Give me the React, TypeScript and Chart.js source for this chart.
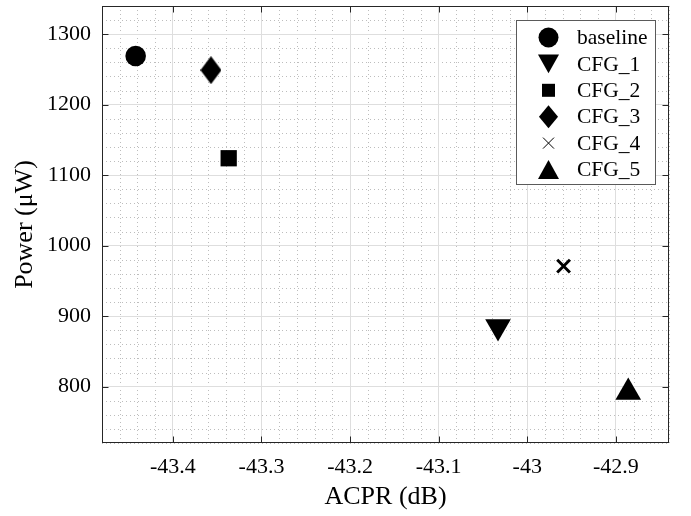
import React, { useEffect, useRef } from "react";
import { Chart, registerables } from "chart.js";

Chart.register(...registerables);

const seriesNames = ["baseline", "CFG_1", "CFG_2", "CFG_3", "CFG_4", "CFG_5"];
const acprValues = [-43.442, -43.033, -43.337, -43.357, -42.959, -42.886];
const powerValues = [1269, 885, 1124, 1249, 971, 792];
const markerStyles = ["circle", "triangleDown", "rect", "diamond", "cross", "triangle"];

const xMin = -43.48;
const xMax = -42.84;
const yMin = 720;
const yMax = 1340;
const xMajor = 0.1;
const yMajor = 100;
const xMinor = 0.02;
const yMinor = 20;

const FONT = "'Liberation Serif', 'Times New Roman', serif";

function makeDiamond(w: number, h: number): HTMLCanvasElement {
  const c = document.createElement("canvas");
  c.width = w;
  c.height = h;
  const g = c.getContext("2d")!;
  g.fillStyle = "#000";
  g.beginPath();
  g.moveTo(w / 2, 0);
  g.lineTo(w, h / 2);
  g.lineTo(w / 2, h);
  g.lineTo(0, h / 2);
  g.closePath();
  g.fill();
  return c;
}

function drawMarker(ctx: CanvasRenderingContext2D, kind: string, x: number, y: number, s: number, thinX: boolean) {
  ctx.save();
  ctx.fillStyle = "#000";
  ctx.strokeStyle = "#000";
  ctx.beginPath();
  if (kind === "circle") {
    ctx.arc(x, y, s / 2, 0, Math.PI * 2);
    ctx.fill();
  } else if (kind === "rect") {
    ctx.fillRect(x - s / 2, y - s / 2, s, s);
  } else if (kind === "diamond") {
    const w = s * 0.83;
    ctx.moveTo(x, y - s / 2);
    ctx.lineTo(x + w / 2, y);
    ctx.lineTo(x, y + s / 2);
    ctx.lineTo(x - w / 2, y);
    ctx.closePath();
    ctx.fill();
  } else if (kind === "triangle" || kind === "triangleDown") {
    const h = s * 0.9;
    const d = kind === "triangle" ? 1 : -1;
    ctx.moveTo(x, y - (d * h) / 2);
    ctx.lineTo(x + s / 2, y + (d * h) / 2);
    ctx.lineTo(x - s / 2, y + (d * h) / 2);
    ctx.closePath();
    ctx.fill();
  } else if (kind === "cross") {
    ctx.lineWidth = thinX ? 1 : 3;
    const r = s / 2;
    ctx.moveTo(x - r, y - r);
    ctx.lineTo(x + r, y + r);
    ctx.moveTo(x + r, y - r);
    ctx.lineTo(x - r, y + r);
    ctx.stroke();
  }
  ctx.restore();
}

const minorGridPlugin = {
  id: "minorGrid",
  beforeDraw(chart: any) {
    const { ctx, chartArea } = chart;
    const xs = chart.scales.x;
    const ys = chart.scales.y;
    ctx.save();
    ctx.fillStyle = "#fff";
    ctx.fillRect(0, 0, chart.width, chart.height);
    ctx.strokeStyle = "#bdbdbd";
    ctx.lineWidth = 1;
    ctx.setLineDash([1, 3]);
    const i0 = Math.ceil(xMin / xMinor - 1e-9);
    const i1 = Math.floor(xMax / xMinor + 1e-9);
    for (let i = i0; i <= i1; i++) {
      if (i % 5 === 0) continue;
      const px = Math.round(xs.getPixelForValue(i * xMinor)) + 0.5;
      ctx.beginPath();
      ctx.moveTo(px, chartArea.top);
      ctx.lineTo(px, chartArea.bottom);
      ctx.stroke();
    }
    const j0 = Math.ceil(yMin / yMinor - 1e-9);
    const j1 = Math.floor(yMax / yMinor + 1e-9);
    for (let j = j0; j <= j1; j++) {
      if (j % 5 === 0) continue;
      const py = Math.round(ys.getPixelForValue(j * yMinor)) + 0.5;
      ctx.beginPath();
      ctx.moveTo(chartArea.left, py);
      ctx.lineTo(chartArea.right, py);
      ctx.stroke();
    }
    ctx.restore();
  },
  afterDraw(chart: any) {
    const { ctx, chartArea } = chart;
    const xs = chart.scales.x;
    const ys = chart.scales.y;
    ctx.save();
    ctx.setLineDash([]);
    ctx.strokeStyle = "#262626";
    ctx.lineWidth = 1;
    const L = Math.round(chartArea.left) + 0.5;
    const R = Math.round(chartArea.right) - 0.5;
    const T = Math.round(chartArea.top) + 0.5;
    const B = Math.round(chartArea.bottom) - 0.5;
    ctx.strokeRect(L, T, R - L, B - T);
    const tl = 6;
    ctx.beginPath();
    xs.ticks.forEach((t: any) => {
      const px = Math.round(xs.getPixelForValue(t.value)) + 0.5;
      ctx.moveTo(px, B);
      ctx.lineTo(px, B - tl);
      ctx.moveTo(px, T);
      ctx.lineTo(px, T + tl);
    });
    ys.ticks.forEach((t: any) => {
      const py = Math.round(ys.getPixelForValue(t.value)) + 0.5;
      ctx.moveTo(L, py);
      ctx.lineTo(L + tl, py);
      ctx.moveTo(R, py);
      ctx.lineTo(R - tl, py);
    });
    ctx.stroke();

    // legend
    const lx = 516.5, ly = 20.5, lw = 139, lh = 164;
    ctx.fillStyle = "#fff";
    ctx.fillRect(lx, ly, lw, lh);
    ctx.strokeStyle = "#5a5a5a";
    ctx.strokeRect(lx, ly, lw, lh);
    const legendSizes = [20, 21, 13, 23, 11, 21];
    ctx.font = `21.5px ${FONT}`;
    ctx.textBaseline = "middle";
    ctx.textAlign = "left";
    seriesNames.forEach((name, i) => {
      const cy = 37.5 + i * 26.4;
      drawMarker(ctx, markerStyles[i], 548.5, cy, legendSizes[i], true);
      ctx.fillStyle = "#000";
      ctx.fillText(name, 577, cy + 1);
    });
    ctx.restore();
  },
};

const zeroPad = () => ({ left: 0, top: 0, right: 0, bottom: 0 });

export default function App() {
  const ref = useRef<HTMLCanvasElement | null>(null);
  useEffect(() => {
    const canvas = ref.current!;
    const diamond = makeDiamond(21, 28);
    const styleFor = (k: string): any => {
      if (k === "diamond") return diamond;
      if (k === "triangleDown") return "triangle";
      if (k === "cross") return "crossRot";
      return k;
    };
    const radiusFor = [10.3, 14.8, 11.5, 12, 9, 14.8];
    const datasets = seriesNames.map((name, i) => ({
      label: name,
      data: [{ x: acprValues[i], y: powerValues[i] }],
      pointStyle: styleFor(markerStyles[i]),
      pointRotation: markerStyles[i] === "triangleDown" ? 180 : 0,
      pointRadius: radiusFor[i],
      pointHoverRadius: radiusFor[i],
      backgroundColor: "#000",
      borderColor: "#000",
      borderWidth: markerStyles[i] === "cross" ? 3 : 0,
      showLine: false,
      clip: false,
    }));
    const chart = new Chart(canvas, {
      type: "scatter",
      data: { datasets },
      plugins: [minorGridPlugin],
      options: {
        animation: false,
        responsive: false,
        devicePixelRatio: 1,
        layout: { autoPadding: false, padding: { top: 6, right: 22, left: 0, bottom: 0 } },
        plugins: { legend: { display: false }, tooltip: { enabled: false } },
        font: { family: FONT },
        scales: {
          x: {
            type: "linear",
            min: xMin,
            max: xMax,
            afterFit: (s: any) => {
              s.height = 73; s.paddingLeft = 0; s.paddingRight = 0; s.paddingTop = 0; s.paddingBottom = 0;
              s.getPadding = zeroPad;
            },
            ticks: {
              stepSize: xMajor,
              includeBounds: false,
              padding: 11,
              color: "#000",
              font: { family: FONT, size: 22 },
              maxRotation: 0,
              callback: (v: any) => String(Number(Number(v).toFixed(1))),
            },
            grid: { color: "#dedede", lineWidth: 1, drawTicks: false },
            border: { display: false },
            title: {
              display: true,
              text: "ACPR (dB)",
              color: "#000",
              font: { family: FONT, size: 26 },
              padding: { top: 0, bottom: 3 },
            },
          },
          y: {
            type: "linear",
            min: yMin,
            max: yMax,
            afterFit: (s: any) => {
              s.width = 102; s.paddingTop = 0; s.paddingBottom = 0; s.paddingLeft = 0; s.paddingRight = 0;
              s.getPadding = zeroPad;
            },
            ticks: {
              stepSize: yMajor,
              includeBounds: false,
              padding: 11,
              color: "#000",
              font: { family: FONT, size: 22 },
              callback: (v: any) => String(Math.round(Number(v))),
            },
            grid: { color: "#dedede", lineWidth: 1, drawTicks: false },
            border: { display: false },
            title: {
              display: true,
              text: "Power (μW)",
              color: "#000",
              font: { family: FONT, size: 26 },
              padding: { top: 10, bottom: 0 },
            },
          },
        },
      } as any,
    });
    return () => chart.destroy();
  }, []);
  return (
    <div style={{ position: "fixed", left: 0, top: 0, width: 691, height: 516, background: "#fff" }}>
      <canvas ref={ref} width={691} height={516} style={{ display: "block" }} />
    </div>
  );
}
